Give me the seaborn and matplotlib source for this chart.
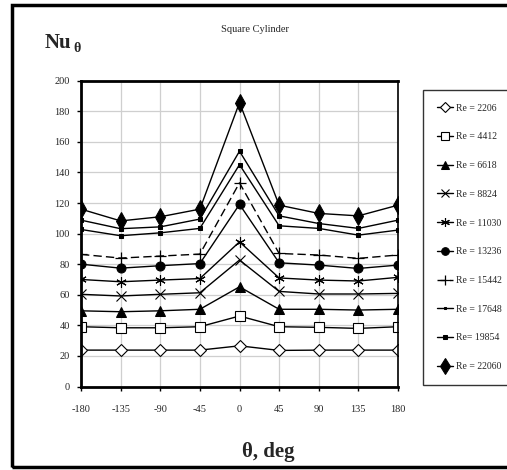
import matplotlib
matplotlib.use("Agg")
import matplotlib.pyplot as plt
import seaborn as sns
from matplotlib.patches import Rectangle

theta = [-180, -135, -90, -45, 0, 45, 90, 135, 180]
re_2206 = [23.8, 23.8, 23.8, 23.8, 26.6, 23.6, 23.8, 23.8, 23.8]
re_4412 = [39.1, 38.4, 38.4, 39.1, 46.1, 39.1, 38.7, 38.0, 39.1]
re_6618 = [49.5, 48.9, 49.5, 50.5, 65.2, 50.5, 50.5, 50.0, 50.5]
re_8824 = [60.3, 59.2, 60.3, 61.3, 82.7, 62.2, 60.5, 60.5, 60.9]
re_11030 = [70.0, 68.5, 69.6, 70.6, 94.6, 71.0, 69.6, 69.0, 71.4]
re_13236 = [80.0, 77.4, 79.0, 80.4, 119.1, 80.9, 79.4, 77.2, 79.4]
re_15442 = [86.4, 84.0, 85.3, 86.6, 133.2, 87.0, 86.0, 83.8, 86.0]
re_17648 = [102.7, 98.6, 100.5, 103.4, 145.1, 105.1, 103.4, 99.0, 102.3]
re_19854 = [108.8, 103.2, 104.4, 109.5, 153.9, 111.6, 106.6, 103.4, 108.8]
re_22060 = [116.0, 108.3, 111.0, 116.0, 185.7, 118.6, 113.2, 111.6, 118.6]

labels = ["Re = 2206", "Re = 4412", "Re = 6618", "Re = 8824", "Re = 11030",
          "Re = 13236", "Re = 15442", "Re = 17648", "Re= 19854", "Re = 22060"]
series = [re_2206, re_4412, re_6618, re_8824, re_11030,
          re_13236, re_15442, re_17648, re_19854, re_22060]
xticks = [-180, -135, -90, -45, 0, 45, 90, 135, 180]
yticks = [0, 20, 40, 60, 80, 100, 120, 140, 160, 180, 200]

sns.set_style("white")
plt.rcParams['font.family'] = ['Liberation Serif', 'DejaVu Serif']
plt.rcParams['axes.unicode_minus'] = False

styles = [
    dict(marker='D', markersize=6, markerfacecolor='white', markeredgewidth=0.8),
    dict(marker='s', markersize=6.5, markerfacecolor='white', markeredgewidth=0.8),
    dict(marker='^', markersize=6.5, markerfacecolor='black'),
    dict(marker='x', markersize=6.5, markeredgewidth=0.8),
    dict(marker=(6, 2, 0), markersize=7.5, markeredgewidth=0.8),
    dict(marker='o', markersize=6.5, markerfacecolor='black'),
    dict(marker='+', markersize=8, markeredgewidth=0.9, linestyle=(0, (6, 3))),
    dict(marker='s', markersize=2.5, markerfacecolor='black'),
    dict(marker='s', markersize=3.5, markerfacecolor='black'),
    dict(marker='d', markersize=9, markerfacecolor='black'),
]

fig = plt.figure(figsize=(5.07, 4.70), dpi=100)
ax = fig.add_axes([81/507, 1-386.5/470, (398-81)/507, (386.5-80.7)/470])

for vals, lab, st in zip(series, labels, styles):
    kw = dict(color='black', linewidth=1.0, markeredgecolor='black')
    kw.update(st)
    sns.lineplot(x=theta, y=vals, ax=ax, label=lab, **kw)

ax.set_xlim(-180, 180)
ax.set_ylim(0, 200)
ax.set_xticks(xticks)
ax.set_yticks(yticks)
ax.grid(True, color='#cfcfcf', linewidth=0.9)
ax.set_axisbelow(True)
for s in ax.spines.values():
    s.set_color('black')
    s.set_linewidth(1.2)
ax.spines['top'].set_linewidth(2.0)
ax.spines['left'].set_linewidth(2.0)
ax.spines['bottom'].set_linewidth(2.0)
ax.tick_params(axis='both', direction='out', length=3, width=1, color='black',
               labelsize=7.5, pad=5, left=True, bottom=True)
ax.tick_params(axis='x', pad=10)
ax.set_xlabel('')
ax.set_ylabel('')

leg = ax.legend(loc='upper left', bbox_to_anchor=(423/507, 1-90/470),
                bbox_transform=fig.transFigure, frameon=True, fancybox=False,
                edgecolor='black', fontsize=7, handlelength=1.7,
                labelspacing=2.03, borderpad=1.4, handletextpad=0.3,
                borderaxespad=0, markerscale=0.85)
leg.get_frame().set_linewidth(1.0)

fig.text(255/507, 1-30/470, 'Square Cylinder', ha='center', va='center', fontsize=7.5)
fig.text(45/507, 1-43/470, 'Nu', ha='left', va='center', fontsize=15, fontweight='bold')
fig.text(73/507, 1-48/470, 'θ', ha='left', va='center', fontsize=10, fontweight='bold')
fig.text(268/507, 1-452/470, 'θ, deg', ha='center', va='center', fontsize=15, fontweight='bold')

fig.patches.append(Rectangle((12/507, 3/470), 520/507, 462/470, transform=fig.transFigure,
                             fill=False, edgecolor='black', linewidth=2.5, clip_on=False))

fig.savefig('out.png', dpi=100)
